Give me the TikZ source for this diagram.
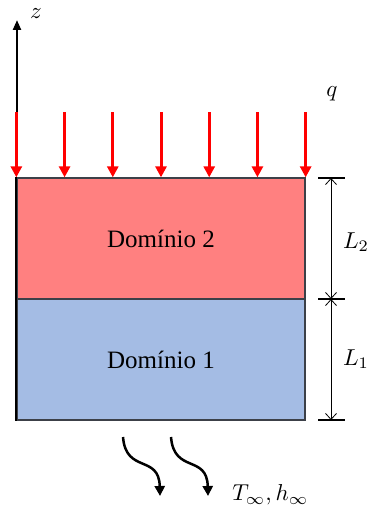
\documentclass[tikz,border=0pt]{standalone}
\usepackage{fontspec}
\setmainfont{Liberation Serif}
\usetikzlibrary{arrows.meta,calc}
\definecolor{dom2}{RGB}{255,128,128}
\definecolor{dom1}{RGB}{164,188,228}
\definecolor{edge}{RGB}{60,64,72}
\tikzset{
  dombox/.style={rectangle, draw=edge, line width=1.3pt, minimum width=288pt, minimum height=121pt, inner sep=0pt, font=\fontsize{25}{28}\selectfont},
  heatarrow/.style={draw=red, line width=3pt, -{Triangle[width=11pt,length=11pt]}},
  dimarrow/.style={draw=black, line width=0.8pt, {Straight Barb[length=6pt,width=11pt]}-{Straight Barb[length=6pt,width=11pt]}},
  tickline/.style={draw=black, line width=1.2pt},
  wavyarrow/.style={draw=black, line width=2.5pt, -{Triangle[width=10pt,length=10pt]}},
  lab/.style={font=\normalsize, scale=2.3}
}
\begin{document}
\begin{tikzpicture}[x=1pt,y=-1pt]
\useasboundingbox (0,0) rectangle (370,513);
\node[dombox, fill=dom2] (d2) at (161,238.5) {Domínio 2};
\node[dombox, fill=dom1] (d1) at (161,359.5) {Domínio 1};
% z axis
\coordinate (zt) at (17,20);
\coordinate (zb) at (17,113);
\draw[line width=2.2pt, -{Triangle[width=8pt,length=10pt]}] (zb) -- (zt);
\draw[line width=2.2pt] (d2.north west) -- (d1.south west);
\node[lab] (z) at (36,14) {$z$};
% heat flux arrows
\foreach \i in {0,...,6} {
  \coordinate (a\i) at ($(d2.north west)!\i/6!(d2.north east)$);
  \draw[heatarrow] ($(a\i)+(0,-65)$) -- (a\i);
}
\node[lab] (q) at (332,94) {$q$};
% dimension lines
\coordinate (t1) at (318,178);
\coordinate (t1r) at (345,178);
\coordinate (t2) at (318,299);
\coordinate (t2r) at (345,299);
\coordinate (t3) at (318,420);
\coordinate (t3r) at (345,420);
\draw[tickline] (t1) -- (t1r);
\draw[tickline] (t2) -- (t2r);
\draw[tickline] (t3) -- (t3r);
\coordinate (m1) at (331,178);
\coordinate (m2) at (331,299);
\coordinate (m3) at (331,420);
\draw[dimarrow] (m1) -- (m2);
\draw[dimarrow] (m2) -- (m3);
\node[lab] (L2) at (356,242) {$L_2$};
\node[lab] (L1) at (356,359) {$L_1$};
% convection arrows
\coordinate (w1s) at (123,437);
\coordinate (w1e) at (160,496);
\coordinate (w2s) at (171,437);
\coordinate (w2e) at (208,496);
\draw[wavyarrow] (w1s) .. controls (126,474) and (159,454) .. (w1e);
\draw[wavyarrow] (w2s) .. controls (174,474) and (207,454) .. (w2e);
\node[lab, anchor=west, inner sep=0pt] (Tinf) at (232,495) {$T_\infty, h_\infty$};
\end{tikzpicture}
\end{document}
